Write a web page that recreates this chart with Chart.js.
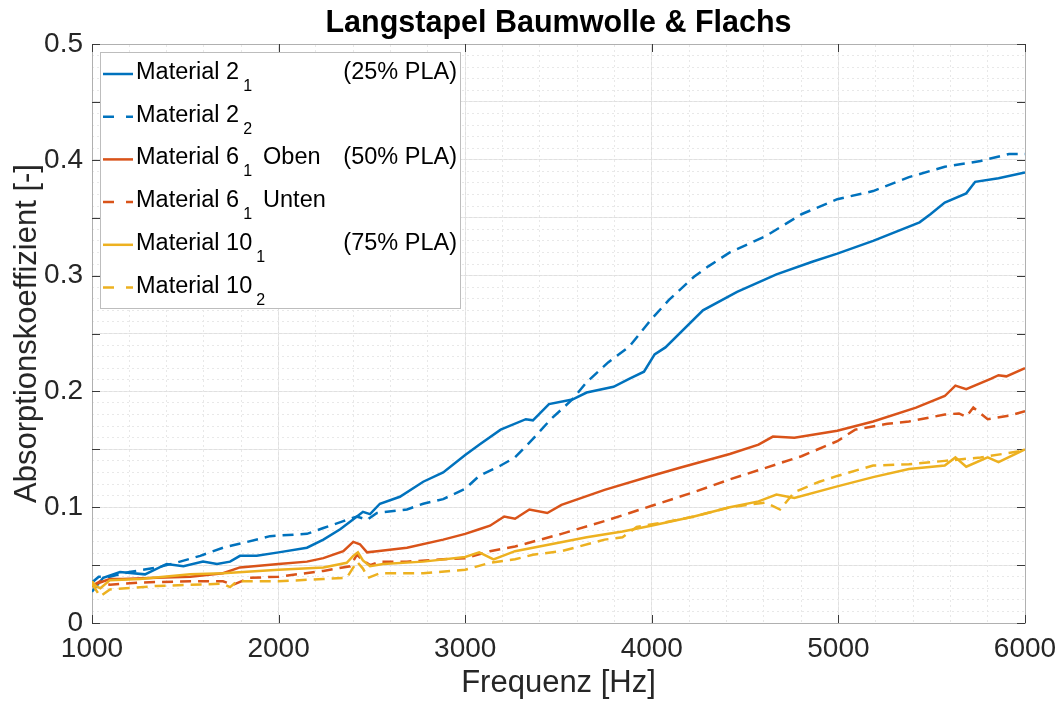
<!DOCTYPE html>
<html>
<head>
<meta charset="utf-8">
<title>Langstapel Baumwolle & Flachs</title>
<script src="https://cdn.jsdelivr.net/npm/chart.js@4.4.1/dist/chart.umd.min.js"></script>
<style>
  html, body { margin: 0; padding: 0; background: #fff; }
  #wrap { width: 1059px; height: 706px; }
</style>
</head>
<body>
<div id="wrap"><canvas id="absChart" width="1059" height="706"></canvas></div>
<script>
// --- data (frequency in Hz, absorption coefficient) ---
const m2aHz  = [1000,1030,1060,1150,1284,1400,1490,1595,1670,1740,1793,1883,2000,2152,2240,2330,2420,2452,2490,2543,2650,2775,2882,3000,3075,3190,3325,3363,3449,3574,3651,3795,3881,3958,4015,4073,4274,4457,4668,4860,4994,5186,5435,5493,5570,5685,5733,5858,6000];
const m2aVal = [0.027,0.033,0.039,0.044,0.042,0.051,0.049,0.053,0.051,0.053,0.058,0.058,0.061,0.065,0.072,0.081,0.092,0.096,0.094,0.103,0.109,0.122,0.130,0.145,0.154,0.167,0.176,0.175,0.189,0.193,0.199,0.204,0.211,0.217,0.232,0.238,0.270,0.286,0.301,0.312,0.319,0.330,0.346,0.353,0.363,0.371,0.381,0.384,0.389];

const m2bHz  = [1000,1036,1096,1200,1348,1450,1580,1702,1830,1954,2152,2240,2347,2420,2474,2527,2688,2775,2882,3000,3075,3190,3267,3363,3459,3574,3651,3766,3881,3996,4092,4226,4303,4418,4610,4802,4994,5186,5378,5570,5762,5915,6000];
const m2bVal = [0.035,0.040,0.040,0.044,0.048,0.052,0.058,0.065,0.070,0.075,0.077,0.082,0.088,0.092,0.089,0.095,0.098,0.103,0.107,0.116,0.127,0.136,0.143,0.159,0.176,0.193,0.208,0.225,0.239,0.262,0.279,0.299,0.308,0.320,0.334,0.353,0.366,0.373,0.385,0.394,0.399,0.405,0.405];

const m6aHz  = [1000,1043,1096,1166,1348,1527,1702,1793,2000,2152,2240,2347,2400,2436,2474,2527,2688,2882,3000,3075,3133,3209,3267,3344,3440,3516,3747,3996,4150,4418,4572,4649,4764,4994,5186,5416,5570,5627,5685,5819,5858,5900,6000];
const m6aVal = [0.032,0.035,0.038,0.038,0.039,0.040,0.043,0.048,0.051,0.053,0.056,0.062,0.070,0.068,0.061,0.062,0.065,0.072,0.077,0.081,0.084,0.092,0.090,0.098,0.095,0.102,0.115,0.127,0.134,0.146,0.154,0.161,0.160,0.166,0.174,0.186,0.196,0.205,0.202,0.211,0.214,0.213,0.220];

const m6bHz  = [1000,1043,1096,1257,1527,1702,1755,1847,2000,2240,2383,2420,2445,2490,2543,2688,2882,3000,3133,3267,3516,3747,3996,4226,4418,4610,4802,4994,5090,5263,5378,5570,5646,5685,5723,5800,5915,6000];
const m6bVal = [0.032,0.036,0.033,0.035,0.036,0.036,0.033,0.039,0.040,0.045,0.049,0.059,0.055,0.050,0.053,0.053,0.055,0.056,0.062,0.066,0.077,0.088,0.101,0.113,0.124,0.134,0.144,0.157,0.167,0.172,0.174,0.180,0.181,0.178,0.186,0.176,0.179,0.183];

const m10aHz  = [1000,1020,1045,1096,1257,1527,1702,2000,2240,2365,2400,2425,2452,2490,2560,2775,3000,3075,3152,3267,3459,3651,3843,3996,4226,4418,4572,4668,4764,4994,5186,5378,5570,5627,5685,5800,5858,6000];
const m10aVal = [0.036,0.032,0.030,0.037,0.038,0.042,0.043,0.046,0.048,0.052,0.058,0.061,0.054,0.049,0.051,0.053,0.057,0.061,0.055,0.062,0.068,0.074,0.079,0.084,0.092,0.100,0.105,0.111,0.108,0.118,0.126,0.133,0.136,0.143,0.135,0.143,0.139,0.150];

const m10bHz  = [1000,1043,1096,1348,1527,1700,1740,1777,2000,2240,2365,2420,2452,2479,2543,2775,3000,3133,3267,3363,3516,3747,3843,3919,4073,4226,4418,4610,4687,4764,4898,4994,5186,5378,5570,5762,6000];
const m10bVal = [0.034,0.023,0.029,0.032,0.033,0.034,0.031,0.036,0.036,0.038,0.039,0.053,0.047,0.039,0.043,0.043,0.046,0.052,0.055,0.059,0.062,0.072,0.074,0.083,0.087,0.092,0.100,0.104,0.098,0.113,0.122,0.127,0.136,0.137,0.140,0.143,0.149];

// legend entries (main text, subscript, extra text, note on the right)
const legendItems = [
  { text: 'Material 2',  sub: '1', extra: '',      note: '(25% PLA)' },
  { text: 'Material 2',  sub: '2', extra: '',      note: '' },
  { text: 'Material 6',  sub: '1', extra: 'Oben',  note: '(50% PLA)' },
  { text: 'Material 6',  sub: '1', extra: 'Unten', note: '' },
  { text: 'Material 10', sub: '1', extra: '',      note: '(75% PLA)' },
  { text: 'Material 10', sub: '2', extra: '',      note: '' }
];

const FONT = '"Liberation Sans", Arial, Helvetica, sans-serif';
const TXT = '#262626';
const BLUE = '#0072BD', ORANGE = '#D95319', YELLOW = '#EDB120';
const DASH = [11, 7];

function pts(hz, val) {
  return hz.map((h, i) => ({ x: h, y: val[i] }));
}

function series(data, color, dashed, order) {
  return {
    data: data,
    borderColor: color,
    backgroundColor: color,
    borderWidth: 2.5,
    borderDash: dashed ? DASH : [],
    pointRadius: 0,
    tension: 0,
    fill: false,
    order: order
  };
}

const datasets = [
  series(pts(m2aHz, m2aVal), BLUE, false, 6),
  series(pts(m2bHz, m2bVal), BLUE, true, 5),
  series(pts(m6aHz, m6aVal), ORANGE, false, 4),
  series(pts(m6bHz, m6bVal), ORANGE, true, 3),
  series(pts(m10aHz, m10aVal), YELLOW, false, 2),
  series(pts(m10bHz, m10bVal), YELLOW, true, 1)
];

// short tick marks pointing into the plot, on all four sides
const innerTicks = {
  id: 'innerTicks',
  beforeDatasetsDraw(chart) {
    const { ctx, chartArea: a, scales } = chart;
    const len = 8;
    ctx.save();
    ctx.strokeStyle = '#3a3a3a';
    ctx.lineWidth = 1;
    ctx.beginPath();
    scales.x.ticks.forEach(t => {
      const px = Math.round(scales.x.getPixelForValue(t.value)) + 0.5;
      ctx.moveTo(px, a.bottom); ctx.lineTo(px, a.bottom - len);
      ctx.moveTo(px, a.top); ctx.lineTo(px, a.top + len);
    });
    scales.y.ticks.forEach(t => {
      const py = Math.round(scales.y.getPixelForValue(t.value)) + 0.5;
      ctx.moveTo(a.left, py); ctx.lineTo(a.left + len, py);
      ctx.moveTo(a.right, py); ctx.lineTo(a.right - len, py);
    });
    ctx.stroke();
    ctx.restore();
  }
};

// legend with subscripts, drawn in the upper left corner of the plot
const subLegend = {
  id: 'subLegend',
  afterDraw(chart) {
    const { ctx, chartArea: a } = chart;
    const x0 = a.left + 8, y0 = a.top + 8, w = 360, h = 256;
    ctx.save();
    ctx.fillStyle = '#fff';
    ctx.fillRect(x0, y0, w, h);
    ctx.strokeStyle = '#bdbdbd';
    ctx.lineWidth = 1;
    ctx.strokeRect(x0 + 0.5, y0 + 0.5, w, h);

    legendItems.forEach((item, i) => {
      const ds = chart.data.datasets[i];
      const cy = y0 + 22 + i * 42.7;
      ctx.strokeStyle = ds.borderColor;
      ctx.lineWidth = 2.5;
      ctx.setLineDash(ds.borderDash.length ? [11, 12] : []);
      ctx.beginPath();
      ctx.moveTo(x0 + 3, cy); ctx.lineTo(x0 + 33, cy);
      ctx.stroke();
      ctx.setLineDash([]);

      ctx.fillStyle = '#000';
      ctx.textBaseline = 'alphabetic';
      ctx.textAlign = 'left';
      ctx.font = '23.5px ' + FONT;
      const tx = x0 + 36;
      ctx.fillText(item.text, tx, cy + 5);
      let cx = tx + ctx.measureText(item.text).width + 4;
      ctx.font = '16px ' + FONT;
      ctx.fillText(item.sub, cx, cy + 17);
      cx += ctx.measureText(item.sub).width;
      ctx.font = '23.5px ' + FONT;
      if (item.extra) ctx.fillText(item.extra, cx + 11, cy + 5);
      if (item.note) {
        ctx.textAlign = 'right';
        ctx.fillText(item.note, x0 + w - 3, cy + 5);
      }
    });
    ctx.restore();
  }
};

const ctx = document.getElementById('absChart').getContext('2d');
new Chart(ctx, {
  type: 'line',
  data: { datasets: datasets },
  plugins: [innerTicks, subLegend],
  options: {
    responsive: false,
    animation: false,
    layout: { padding: { left: 0, right: 34, top: 0, bottom: 0 } },
    plugins: {
      legend: { display: false },
      tooltip: { enabled: false },
      title: {
        display: true,
        fullSize: false,
        text: 'Langstapel Baumwolle & Flachs',
        color: '#000',
        font: { family: FONT, size: 30.5, weight: 'bold' },
        padding: { top: 5, bottom: 2.4 }
      }
    },
    scales: {
      x: {
        type: 'linear',
        position: 'bottom',
        min: 1000, max: 6000,
        ticks: {
          stepSize: 1000,
          color: TXT,
          padding: 9,
          font: { family: FONT, size: 28 },
          callback: v => String(v)
        },
        grid: { color: '#e0e0e0', drawTicks: false },
        border: { display: true, color: '#b0b0b0' },
        title: {
          display: true,
          text: 'Frequenz [Hz]',
          color: TXT,
          font: { family: FONT, size: 31 },
          padding: { top: 0, bottom: 4.4 }
        },
        afterFit: s => { s.height = 83; s.paddingLeft = 0; s.paddingRight = 0; }
      },
      xMinor: {
        type: 'linear',
        position: 'top',
        min: 1000, max: 6000,
        ticks: { display: false, stepSize: 200 },
        grid: { color: '#e8e8e8', drawTicks: false },
        border: { display: true, color: '#b0b0b0', dash: [2, 3] },
        afterFit: s => { s.height = 0; s.paddingLeft = 0; s.paddingRight = 0; }
      },
      y: {
        type: 'linear',
        position: 'left',
        min: 0, max: 0.5,
        ticks: {
          stepSize: 0.05,
          color: TXT,
          padding: 9,
          font: { family: FONT, size: 28 },
          callback: v => {
            const k = Math.round(v * 20);
            if (k % 2 !== 0) return '';
            return k === 0 ? '0' : (k / 20).toFixed(1);
          }
        },
        grid: { color: '#e0e0e0', drawTicks: false },
        border: { display: true, color: '#b0b0b0' },
        title: {
          display: true,
          text: 'Absorptionskoeffizient [-]',
          color: TXT,
          font: { family: FONT, size: 31 },
          padding: { top: 8.4, bottom: 0 }
        },
        afterFit: s => { s.width = 92; }
      },
      yMinor: {
        type: 'linear',
        position: 'right',
        min: 0, max: 0.5,
        ticks: { display: false, stepSize: 0.01 },
        grid: { color: '#e8e8e8', drawTicks: false },
        border: { display: true, color: '#b0b0b0', dash: [2, 3] },
        afterFit: s => { s.width = 0; }
      }
    }
  }
});
</script>
</body>
</html>
